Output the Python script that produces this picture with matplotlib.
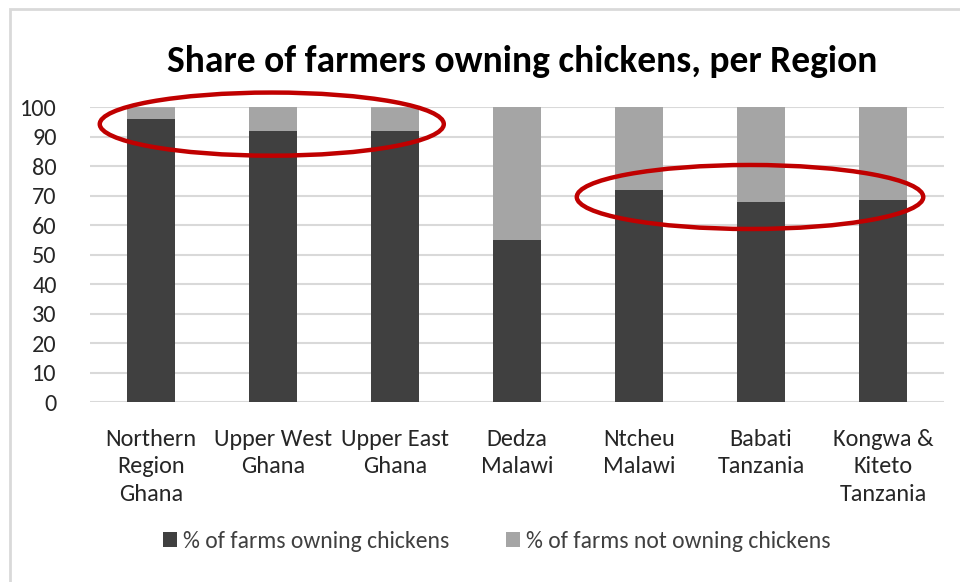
import matplotlib
matplotlib.use("Agg")
import matplotlib.pyplot as plt
from matplotlib import font_manager
from matplotlib.patches import Ellipse, Rectangle

# Data
regions = ["Northern\nRegion\nGhana", "Upper West\nGhana", "Upper East\nGhana",
           "Dedza\nMalawi", "Ntcheu\nMalawi", "Babati\nTanzania",
           "Kongwa &\nKiteto\nTanzania"]
owning = [96, 92, 92, 55, 72, 68, 68.6]
not_owning = [100 - v for v in owning]
yticks = list(range(0, 101, 10))
series_labels = ["% of farms owning chickens", "% of farms not owning chickens"]


def pick_font(candidates):
    for name in candidates:
        try:
            font_manager.findfont(font_manager.FontProperties(family=name),
                                  fallback_to_default=False)
            return name
        except Exception:
            continue
    return "DejaVu Sans"


family = pick_font(["Carlito", "Liberation Sans Narrow", "Lato"])
plt.rcParams["font.family"] = [family, "DejaVu Sans"]

DARK = "#404040"
LIGHT = "#A5A5A5"
GRID = "#D9D9D9"
RED = "#C00000"

fig = plt.figure(figsize=(9.6, 5.82), dpi=100)
ax = fig.add_axes([90 / 960, 1 - 402.3 / 582, (944 - 90) / 960, (402.3 - 107.3) / 582])

x = list(range(len(regions)))
ax.bar(x, owning, width=0.4, color=DARK, label=series_labels[0], zorder=3)
ax.bar(x, not_owning, width=0.4, bottom=owning, color=LIGHT,
       label=series_labels[1], zorder=3)

ax.set_xlim(-0.5, len(regions) - 0.5)
ax.set_ylim(0, 100)
ax.set_yticks(yticks)
ax.set_xticks(x)
ax.set_xticklabels(regions, fontsize=17.5, color="#262626", linespacing=1.38)
ax.tick_params(axis="y", labelsize=17.5, labelcolor="#262626", length=0, pad=24)
ax.tick_params(axis="x", length=0, pad=19)
ax.yaxis.grid(True, color=GRID, linewidth=1.5, zorder=0)
for s in ax.spines.values():
    s.set_visible(False)

fig.text(0.544, 1 - 61 / 582, "Share of farmers owning chickens, per Region",
         ha="center", va="center", fontsize=27, fontweight="bold", color="black")

leg = fig.legend(loc="center", bbox_to_anchor=(0.517, 1 - 541 / 582), ncol=2,
                 frameon=False, fontsize=17, handlelength=0.6, handleheight=0.6,
                 handletextpad=0.25, columnspacing=2.4)
for t in leg.get_texts():
    t.set_color("#404040")

# Highlight rings
ax.add_patch(Ellipse((0.99, 94.3), 2.82, 21.4, fill=False, edgecolor=RED,
                     linewidth=3.2, zorder=5, clip_on=False))
ax.add_patch(Ellipse((4.91, 69.6), 2.84, 21.7, fill=False, edgecolor=RED,
                     linewidth=3.2, zorder=5, clip_on=False))

# Chart-area frame
fig.patches.append(Rectangle((10 / 960, -0.1), 1.2, 1.1 - 9 / 582,
                             transform=fig.transFigure, fill=False,
                             edgecolor=GRID, linewidth=2))

fig.savefig("out.png", dpi=100)
